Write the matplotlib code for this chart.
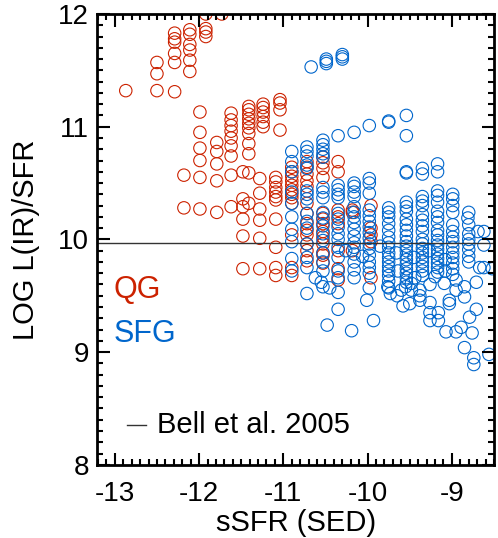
import matplotlib
matplotlib.use("Agg")
import matplotlib.pyplot as plt
from matplotlib.ticker import MultipleLocator

plt.rcParams['font.family'] = ['Liberation Sans', 'DejaVu Sans']
plt.rcParams['axes.unicode_minus'] = False

# QG (red) columns: x position -> list of LOG L(IR)/SFR
qg_cols_x = [-12.87, -12.50, -12.29, -12.11, -11.92, -11.73, -11.99, -12.18, -11.79,
             -11.62, -11.48, -11.41, -11.28, -11.24, -11.09, -11.04, -10.90, -10.72,
             -10.53, -10.35, -10.18, -9.96]
qg_cols_y = [
    [11.32],
    [11.57, 11.47, 11.32],
    [11.83, 11.78, 11.75, 11.65, 11.57, 11.31],
    [11.86, 11.82, 11.73, 11.68, 11.59, 11.49],
    [12.00, 11.87, 11.84, 11.80],
    [12.00],
    [11.13, 10.95, 10.81, 10.70, 10.55, 10.27],
    [10.57, 10.28],
    [10.86, 10.78, 10.67, 10.52, 10.24],
    [11.12, 11.06, 11.01, 10.96, 10.90, 10.83, 10.74, 10.57, 10.29],
    [10.60, 10.36, 10.29, 10.18, 10.03, 9.74],
    [11.18, 11.15, 11.11, 11.07, 11.03, 10.99, 10.94, 10.85, 10.76, 10.59, 10.32],
    [10.54, 10.41, 10.27, 10.17, 10.01, 9.74],
    [11.20, 11.17, 11.13, 11.09, 11.04, 11.00],
    [10.55, 10.51, 10.46, 10.42, 10.38, 10.35, 10.18, 9.93, 9.75, 9.68],
    [11.24, 11.21, 11.15, 10.97],
    [10.64, 10.60, 10.56, 10.52, 10.48, 10.44, 10.40, 10.37, 10.32, 10.04, 9.75, 9.68],
    [10.69, 10.64, 10.58, 10.52, 10.47, 10.32, 10.23, 10.14, 10.08, 10.04, 9.96, 9.90, 9.81],
    [10.73, 10.68, 10.63, 10.55, 10.23, 10.18, 10.14, 10.07, 10.02, 9.96, 9.88, 9.86, 9.79],
    [10.69, 10.60, 10.26, 10.20, 10.14, 9.90, 9.74, 9.64],
    [10.26, 10.24, 9.90],
    [10.30, 10.10, 10.04, 9.98, 9.66],
]

# SFG (blue) columns
sfg_cols_x = [-10.90, -10.72, -10.53, -10.35, -10.16, -9.98, -9.75, -9.54, -9.35,
              -9.17, -8.99, -8.80, -8.62]
sfg_cols_y = [
    [10.78, 10.69, 10.60, 10.42, 10.32, 10.20, 10.09, 9.98, 9.83, 9.72],
    [10.82, 10.78, 10.74, 10.66, 10.63, 10.43, 10.40, 10.36, 10.23, 10.16, 10.10, 9.96, 9.84, 9.75, 9.52],
    [10.88, 10.84, 10.80, 10.76, 10.73, 10.46, 10.42, 10.37, 10.24, 10.19, 10.12, 10.05, 9.99, 9.88, 9.80, 9.72, 9.58],
    [10.92, 10.48, 10.44, 10.40, 10.37, 10.23, 10.18, 10.11, 10.05, 10.00, 9.93, 9.84, 9.72, 9.66, 9.53, 9.38],
    [10.95, 10.50, 10.47, 10.42, 10.38, 10.29, 10.24, 10.20, 10.15, 10.09, 10.03, 9.97, 9.93, 9.87, 9.80, 9.73, 9.66],
    [11.01, 10.54, 10.50, 10.41, 10.26, 10.21, 10.16, 10.11, 10.06, 10.01, 9.96, 9.92, 9.86, 9.80, 9.75, 9.70, 9.57],
    [11.05, 11.04, 10.28, 10.24, 10.20, 10.14, 10.08, 10.02, 9.97, 9.93, 9.88, 9.84, 9.80, 9.76, 9.72, 9.68, 9.63, 9.57],
    [11.10, 10.92, 10.60, 10.59, 10.33, 10.29, 10.25, 10.18, 10.13, 10.08, 10.03, 9.98, 9.94, 9.90, 9.86, 9.82, 9.78, 9.74, 9.70, 9.66, 9.62],
    [10.63, 10.58, 10.38, 10.34, 10.30, 10.22, 10.17, 10.12, 10.07, 10.00, 9.96, 9.92, 9.88, 9.84, 9.80, 9.76, 9.72, 9.68],
    [10.67, 10.60, 10.43, 10.39, 10.33, 10.25, 10.20, 10.15, 10.08, 10.04, 9.99, 9.95, 9.91, 9.87, 9.83, 9.79, 9.75, 9.71],
    [10.40, 10.36, 10.30, 10.24, 10.13, 10.07, 10.02, 9.98, 9.93, 9.88, 9.84, 9.79, 9.74, 9.69],
    [10.24, 10.13, 10.05, 10.00, 9.96, 9.91, 9.85, 9.80],
    [10.07, 9.95, 9.75],
]

# SFG points off the columns
sfg_extra_x = [-10.67, -10.49, -10.49, -10.49, -10.30, -10.30, -10.30,
               -10.48, -10.19, -10.01, -9.93, -9.76, -9.58, -9.50, -9.38, -9.38, -9.38,
               -9.48, -9.48, -9.26, -9.26, -9.26, -9.16, -9.16, -9.20, -9.09, -9.03, -9.03,
               -9.07, -8.95, -8.89, -8.95, -8.95, -8.85, -8.85, -8.79, -8.76, -8.71, -8.71,
               -8.85, -8.74, -8.74, -8.56, -8.67, -8.52, -8.69, -8.81, -9.73, -9.60, -9.65,
               -9.55, -10.55, -10.45, -10.62,
               -9.66, -9.45, -9.27, -9.08, -9.85, -9.64, -9.44, -9.26, -9.08, -10.06, -10.26]
sfg_extra_y = [11.53, 11.60, 11.58, 11.56, 11.64, 11.62, 11.60,
               9.24, 9.19, 9.46, 9.28, 9.58, 9.41, 9.43, 9.46, 9.55, 9.50,
               9.61, 9.55, 9.44, 9.35, 9.28, 9.35, 9.28, 9.67, 9.61, 9.43, 9.46,
               9.18, 9.18, 9.22, 9.55, 9.64, 9.58, 9.49, 9.31, 9.17, 9.38, 9.62,
               9.04, 8.95, 8.89, 8.98, 9.75, 9.74, 10.07, 10.19, 9.52, 9.55, 9.50,
               9.58, 9.62, 9.57, 9.66,
               9.88, 9.84, 9.90, 9.82, 9.94, 9.72, 9.66, 9.60, 9.72, 9.85, 9.90]

bell_2005 = 9.97

red = '#CC2200'
blue = '#0066CC'

qg_x = [x for x, ys in zip(qg_cols_x, qg_cols_y) for _ in ys]
qg_y = [y for ys in qg_cols_y for y in ys]
sfg_x = [x for x, ys in zip(sfg_cols_x, sfg_cols_y) for _ in ys] + sfg_extra_x
sfg_y = [y for ys in sfg_cols_y for y in ys] + sfg_extra_y

fig = plt.figure(figsize=(4.98, 5.38), dpi=100)
ax = fig.add_axes([0.195, 0.136, 0.797, 0.838])

ax.scatter(qg_x, qg_y, s=80, facecolors='none', edgecolors=red, linewidths=0.8)
ax.scatter(sfg_x, sfg_y, s=80, facecolors='none', edgecolors=blue, linewidths=0.8)
ax.axhline(bell_2005, color='#333333', lw=1)

ax.set_xlim(-13.21, -8.5)
ax.set_ylim(8, 12)
ax.xaxis.set_major_locator(MultipleLocator(1))
ax.xaxis.set_minor_locator(MultipleLocator(0.1))
ax.yaxis.set_major_locator(MultipleLocator(1))
ax.yaxis.set_minor_locator(MultipleLocator(0.1))
ax.tick_params(which='both', direction='in', top=True, right=True, width=1.5)
ax.tick_params(which='major', length=9, labelsize=20)
ax.tick_params(axis='x', which='major', pad=12)
ax.tick_params(axis='y', which='major', pad=6)
ax.tick_params(which='minor', length=4.5)
for s in ax.spines.values():
    s.set_linewidth(2)

ax.set_xlabel('sSFR (SED)', fontsize=21, labelpad=1)
ax.set_ylabel('LOG L(IR)/SFR', fontsize=21, labelpad=13)

ax.text(-13.02, 9.55, 'QG', color=red, fontsize=22, va='center')
ax.text(-13.02, 9.16, 'SFG', color=blue, fontsize=22, va='center')
ax.plot([-12.85, -12.63], [8.35, 8.35], color='#333333', lw=1)
ax.text(-12.50, 8.35, 'Bell et al. 2005', fontsize=21, va='center')

fig.savefig('out.png', dpi=100)
